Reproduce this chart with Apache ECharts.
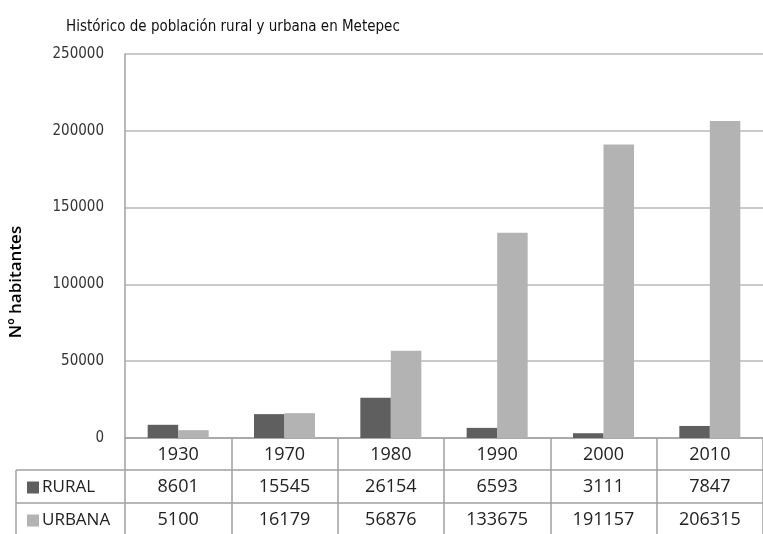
<!DOCTYPE html>
<html><head><meta charset="utf-8">
<script src="https://cdn.jsdelivr.net/npm/echarts@6/dist/echarts.min.js"></script>
<style>html,body{margin:0;padding:0;background:#fff}#c{width:763px;height:534px}</style>
</head><body><div id="c"></div>
<script>
const years = ['1930','1970','1980','1990','2000','2010'];
const rural = [8601, 15545, 26154, 6593, 3111, 7847];
const urbana = [5100, 16179, 56876, 133675, 191157, 206315];
const yTicks = [0, 50000, 100000, 150000, 200000, 250000];
const seriesNames = ['RURAL', 'URBANA'];
const titleText = 'Histórico de población rural y urbana en Metepec';
const yName = 'Nº habitantes';

const FONT = "'Liberation Sans Narrow', 'DejaVu Sans Condensed', 'Open Sans', sans-serif";
const TFONT = "'Open Sans', sans-serif";
const lineCol = '#a0a0a0';
const chart = echarts.init(document.getElementById('c'));
const tableLabel = {fontFamily: TFONT, fontSize: 18, color: '#222', margin: 8};
chart.setOption({
  animation: false,
  title: {text: titleText, left: 61, top: 15, textStyle: {fontFamily: FONT, fontSize: 15, fontWeight: 'normal', color: '#111'}},
  legend: [
    {data: [seriesNames[0]], orient: 'vertical', left: 22, top: 474, icon: 'rect', itemWidth: 12, itemHeight: 12, itemGap: 0,
     textStyle: {fontFamily: TFONT, fontSize: 17, color: '#222', padding: [0,0,0,-2]}},
    {data: [seriesNames[1]], orient: 'vertical', left: 22, top: 507, icon: 'rect', itemWidth: 12, itemHeight: 12, itemGap: 0,
     textStyle: {fontFamily: TFONT, fontSize: 17, color: '#222', padding: [0,0,0,-2]}}
  ],
  grid: {left: 124, top: 54, width: 648, height: 384, containLabel: false},
  xAxis: [
    {type: 'category', data: years, position: 'bottom',
     axisLine: {show: true, lineStyle: {color: lineCol, width: 1.5}},
     axisTick: {show: true, length: 96, interval: 0, lineStyle: {color: lineCol, width: 1.5}},
     axisLabel: tableLabel},
    {type: 'category', data: rural.map(String), position: 'bottom', offset: 32,
     axisLine: {show: true, lineStyle: {color: lineCol, width: 1.5}}, axisTick: {show: false},
     axisLabel: tableLabel},
    {type: 'category', data: urbana.map(String), position: 'bottom', offset: 65,
     axisLine: {show: true, lineStyle: {color: lineCol, width: 1.5}}, axisTick: {show: false},
     axisLabel: tableLabel}
  ],
  yAxis: {type: 'value', min: yTicks[0], max: yTicks[yTicks.length-1], interval: yTicks[1]-yTicks[0],
    name: yName, nameLocation: 'middle', nameGap: 100, nameRotate: 90,
    nameTextStyle: {fontFamily: TFONT, fontSize: 17, color: '#000', fontWeight: 600, padding: [0, 72, 0, 0]},
    axisLine: {show: true, lineStyle: {color: lineCol, width: 1.5}}, axisTick: {show: false},
    splitLine: {lineStyle: {color: '#b8b8b8', width: 1.5}},
    axisLabel: {fontFamily: FONT, fontSize: 15, color: '#333', margin: 21, formatter: v => String(v)}},
  series: [
    {name: seriesNames[0], type: 'bar', data: rural, barWidth: 30.5, barGap: '0%', xAxisIndex: 0,
     itemStyle: {color: '#5f5f5f'}},
    {name: seriesNames[1], type: 'bar', data: urbana, barWidth: 30.5, barGap: '0%', xAxisIndex: 0,
     itemStyle: {color: '#b3b3b3'}}
  ],
  graphic: [
    {type: 'line', shape: {x1: 16, y1: 470, x2: 124, y2: 470}, style: {stroke: lineCol, lineWidth: 1.5}, silent: true},
    {type: 'line', shape: {x1: 16, y1: 503, x2: 124, y2: 503}, style: {stroke: lineCol, lineWidth: 1.5}, silent: true},
    {type: 'line', shape: {x1: 16, y1: 470, x2: 16, y2: 534}, style: {stroke: lineCol, lineWidth: 1.5}, silent: true}
  ]
});
</script></body></html>
